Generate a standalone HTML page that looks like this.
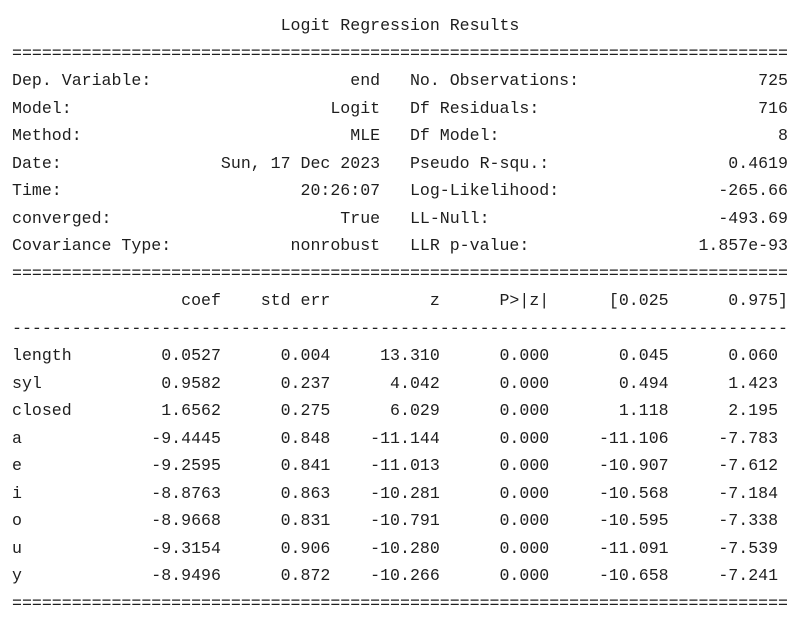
<!DOCTYPE html>
<html><head><meta charset="utf-8"><style>
html,body{margin:0;padding:0;background:#fff;width:802px;height:612px;overflow:hidden}
#out{position:absolute;left:12px;top:12px;margin:0;font-family:"Liberation Mono","DejaVu Sans Mono",monospace;font-size:16.58px;line-height:27.5px;color:#1e1e1e;white-space:pre}
.ln{display:block;height:27.5px}
</style></head><body>
<pre id="out"></pre>
<script>
const title = "Logit Regression Results";
const leftLabels = ["Dep. Variable:","Model:","Method:","Date:","Time:","converged:","Covariance Type:"];
const leftValues = ["end","Logit","MLE","Sun, 17 Dec 2023","20:26:07","True","nonrobust"];
const rightLabels = ["No. Observations:","Df Residuals:","Df Model:","Pseudo R-squ.:","Log-Likelihood:","LL-Null:","LLR p-value:"];
const rightValues = ["725","716","8","0.4619","-265.66","-493.69","1.857e-93"];
const headers = ["coef","std err","z","P>|z|","[0.025","0.975]"];
const varNames = ["length","syl","closed","a","e","i","o","u","y"];
const coefs = ["0.0527","0.9582","1.6562","-9.4445","-9.2595","-8.8763","-8.9668","-9.3154","-8.9496"];
const stdErrs = ["0.004","0.237","0.275","0.848","0.841","0.863","0.831","0.906","0.872"];
const zVals = ["13.310","4.042","6.029","-11.144","-11.013","-10.281","-10.791","-10.280","-10.266"];
const pVals = ["0.000","0.000","0.000","0.000","0.000","0.000","0.000","0.000","0.000"];
const ciLow = ["0.045","0.494","1.118","-11.106","-10.907","-10.568","-10.595","-11.091","-10.658"];
const ciHigh = ["0.060","1.423","2.195","-7.783","-7.612","-7.184","-7.338","-7.539","-7.241"];

const out = document.getElementById('out');
function addLine(text, name){
  const s = document.createElement('span');
  s.className = 'ln';
  s.textContent = text;
  
  
  out.appendChild(s);
}
const eq = "=".repeat(78), dash = "-".repeat(78);
addLine(" ".repeat(27) + title, 'title');
addLine(eq, 'separator-top');
for (let i = 0; i < leftLabels.length; i++) {
  const left = leftLabels[i].padEnd(37 - leftValues[i].length) + leftValues[i];
  const rl = "   " + rightLabels[i];
  const line = left + rl.padEnd(78 - 37 - rightValues[i].length) + rightValues[i];
  addLine(line, 'info-row-' + i);
}
addLine(eq, 'separator-mid');
addLine("".padEnd(10) + headers[0].padStart(11) + headers[1].padStart(11) + headers[2].padStart(11) + headers[3].padStart(11) + headers[4].padStart(12) + headers[5].padStart(12), 'column-headers');
addLine(dash, 'separator-dash');
for (let i = 0; i < varNames.length; i++) {
  const line = varNames[i].padEnd(10) + coefs[i].padStart(11) + stdErrs[i].padStart(11) + zVals[i].padStart(11) + pVals[i].padStart(11) + ciLow[i].padStart(12) + ciHigh[i].padStart(11);
  addLine(line, 'coef-row-' + varNames[i]);
}
addLine(eq, 'separator-bottom');
</script>
</body></html>
